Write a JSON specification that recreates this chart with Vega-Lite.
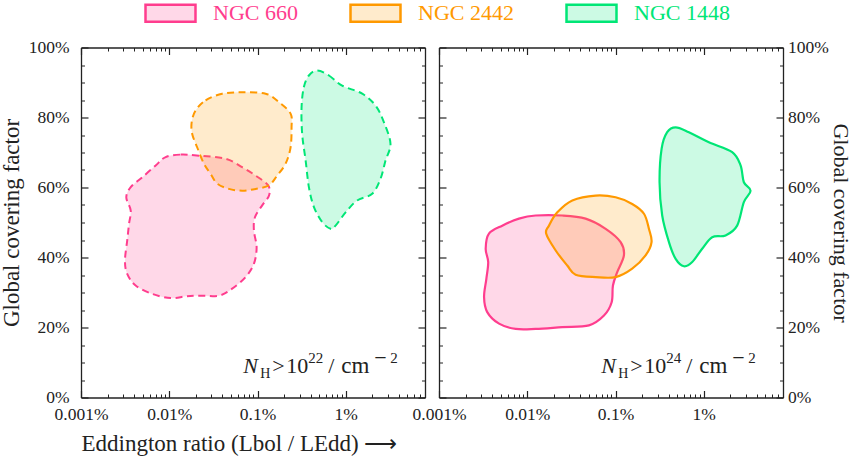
{
  "$schema": "https://vega.github.io/schema/vega-lite/v6.json",
  "background": "white",
  "padding": {"left": 0, "top": 1.5, "right": 0, "bottom": 0},
  "bounds": "flush",
  "spacing": 14,
  "datasets": {
    "blobs": [
      {"panel": "1e22", "galaxy": "NGC 660", "i": 1, "ratio": 0.0091, "cover": 68.7},
      {"panel": "1e22", "galaxy": "NGC 660", "i": 2, "ratio": 0.01346, "cover": 69.4},
      {"panel": "1e22", "galaxy": "NGC 660", "i": 3, "ratio": 0.0217, "cover": 69.1},
      {"panel": "1e22", "galaxy": "NGC 660", "i": 4, "ratio": 0.0436, "cover": 68.2},
      {"panel": "1e22", "galaxy": "NGC 660", "i": 5, "ratio": 0.0671, "cover": 65.8},
      {"panel": "1e22", "galaxy": "NGC 660", "i": 6, "ratio": 0.0951, "cover": 63.4},
      {"panel": "1e22", "galaxy": "NGC 660", "i": 7, "ratio": 0.132, "cover": 60.6},
      {"panel": "1e22", "galaxy": "NGC 660", "i": 8, "ratio": 0.135, "cover": 57.7},
      {"panel": "1e22", "galaxy": "NGC 660", "i": 9, "ratio": 0.113, "cover": 54.9},
      {"panel": "1e22", "galaxy": "NGC 660", "i": 10, "ratio": 0.0935, "cover": 51.5},
      {"panel": "1e22", "galaxy": "NGC 660", "i": 11, "ratio": 0.091, "cover": 47.7},
      {"panel": "1e22", "galaxy": "NGC 660", "i": 12, "ratio": 0.0977, "cover": 42.9},
      {"panel": "1e22", "galaxy": "NGC 660", "i": 13, "ratio": 0.091, "cover": 38.2},
      {"panel": "1e22", "galaxy": "NGC 660", "i": 14, "ratio": 0.0733, "cover": 34.4},
      {"panel": "1e22", "galaxy": "NGC 660", "i": 15, "ratio": 0.0516, "cover": 31.1},
      {"panel": "1e22", "galaxy": "NGC 660", "i": 16, "ratio": 0.0366, "cover": 29.1},
      {"panel": "1e22", "galaxy": "NGC 660", "i": 17, "ratio": 0.0217, "cover": 29.1},
      {"panel": "1e22", "galaxy": "NGC 660", "i": 18, "ratio": 0.01535, "cover": 28.9},
      {"panel": "1e22", "galaxy": "NGC 660", "i": 19, "ratio": 0.01038, "cover": 28.4},
      {"panel": "1e22", "galaxy": "NGC 660", "i": 20, "ratio": 0.00641, "cover": 29.6},
      {"panel": "1e22", "galaxy": "NGC 660", "i": 21, "ratio": 0.00416, "cover": 32.0},
      {"panel": "1e22", "galaxy": "NGC 660", "i": 22, "ratio": 0.00334, "cover": 35.3},
      {"panel": "1e22", "galaxy": "NGC 660", "i": 23, "ratio": 0.00315, "cover": 39.1},
      {"panel": "1e22", "galaxy": "NGC 660", "i": 24, "ratio": 0.00334, "cover": 44.9},
      {"panel": "1e22", "galaxy": "NGC 660", "i": 25, "ratio": 0.0035, "cover": 49.6},
      {"panel": "1e22", "galaxy": "NGC 660", "i": 26, "ratio": 0.00366, "cover": 53.4},
      {"panel": "1e22", "galaxy": "NGC 660", "i": 27, "ratio": 0.00326, "cover": 57.2},
      {"panel": "1e22", "galaxy": "NGC 660", "i": 28, "ratio": 0.00366, "cover": 60.1},
      {"panel": "1e22", "galaxy": "NGC 660", "i": 29, "ratio": 0.00494, "cover": 62.9},
      {"panel": "1e22", "galaxy": "NGC 660", "i": 30, "ratio": 0.00702, "cover": 66.3},
      {"panel": "1e22", "galaxy": "NGC 2442", "i": 1, "ratio": 0.0199, "cover": 82.0},
      {"panel": "1e22", "galaxy": "NGC 2442", "i": 2, "ratio": 0.0258, "cover": 84.9},
      {"panel": "1e22", "galaxy": "NGC 2442", "i": 3, "ratio": 0.0398, "cover": 86.8},
      {"panel": "1e22", "galaxy": "NGC 2442", "i": 4, "ratio": 0.0671, "cover": 87.2},
      {"panel": "1e22", "galaxy": "NGC 2442", "i": 5, "ratio": 0.1236, "cover": 86.8},
      {"panel": "1e22", "galaxy": "NGC 2442", "i": 6, "ratio": 0.175, "cover": 84.4},
      {"panel": "1e22", "galaxy": "NGC 2442", "i": 7, "ratio": 0.237, "cover": 81.1},
      {"panel": "1e22", "galaxy": "NGC 2442", "i": 8, "ratio": 0.243, "cover": 77.2},
      {"panel": "1e22", "galaxy": "NGC 2442", "i": 9, "ratio": 0.237, "cover": 71.5},
      {"panel": "1e22", "galaxy": "NGC 2442", "i": 10, "ratio": 0.208, "cover": 66.8},
      {"panel": "1e22", "galaxy": "NGC 2442", "i": 11, "ratio": 0.167, "cover": 63.4},
      {"panel": "1e22", "galaxy": "NGC 2442", "i": 12, "ratio": 0.1346, "cover": 60.6},
      {"panel": "1e22", "galaxy": "NGC 2442", "i": 13, "ratio": 0.0951, "cover": 59.6},
      {"panel": "1e22", "galaxy": "NGC 2442", "i": 14, "ratio": 0.0671, "cover": 59.1},
      {"panel": "1e22", "galaxy": "NGC 2442", "i": 15, "ratio": 0.0474, "cover": 59.6},
      {"panel": "1e22", "galaxy": "NGC 2442", "i": 16, "ratio": 0.035, "cover": 61.1},
      {"panel": "1e22", "galaxy": "NGC 2442", "i": 17, "ratio": 0.0294, "cover": 63.9},
      {"panel": "1e22", "galaxy": "NGC 2442", "i": 18, "ratio": 0.0247, "cover": 66.8},
      {"panel": "1e22", "galaxy": "NGC 2442", "i": 19, "ratio": 0.0207, "cover": 71.5},
      {"panel": "1e22", "galaxy": "NGC 2442", "i": 20, "ratio": 0.0182, "cover": 75.3},
      {"panel": "1e22", "galaxy": "NGC 2442", "i": 21, "ratio": 0.01795, "cover": 78.7},
      {"panel": "1e22", "galaxy": "NGC 1448", "i": 1, "ratio": 0.474, "cover": 93.4},
      {"panel": "1e22", "galaxy": "NGC 1448", "i": 2, "ratio": 0.644, "cover": 92.0},
      {"panel": "1e22", "galaxy": "NGC 1448", "i": 3, "ratio": 0.91, "cover": 89.1},
      {"panel": "1e22", "galaxy": "NGC 1448", "i": 4, "ratio": 1.535, "cover": 86.8},
      {"panel": "1e22", "galaxy": "NGC 1448", "i": 5, "ratio": 2.177, "cover": 83.4},
      {"panel": "1e22", "galaxy": "NGC 1448", "i": 6, "ratio": 2.7, "cover": 78.7},
      {"panel": "1e22", "galaxy": "NGC 1448", "i": 7, "ratio": 3.21, "cover": 72.5},
      {"panel": "1e22", "galaxy": "NGC 1448", "i": 8, "ratio": 2.82, "cover": 67.7},
      {"panel": "1e22", "galaxy": "NGC 1448", "i": 9, "ratio": 2.477, "cover": 62.5},
      {"panel": "1e22", "galaxy": "NGC 1448", "i": 10, "ratio": 1.991, "cover": 58.2},
      {"panel": "1e22", "galaxy": "NGC 1448", "i": 11, "ratio": 1.346, "cover": 56.3},
      {"panel": "1e22", "galaxy": "NGC 1448", "i": 12, "ratio": 0.995, "cover": 52.9},
      {"panel": "1e22", "galaxy": "NGC 1448", "i": 13, "ratio": 0.766, "cover": 49.1},
      {"panel": "1e22", "galaxy": "NGC 1448", "i": 14, "ratio": 0.673, "cover": 48.2},
      {"panel": "1e22", "galaxy": "NGC 1448", "i": 15, "ratio": 0.541, "cover": 50.1},
      {"panel": "1e22", "galaxy": "NGC 1448", "i": 16, "ratio": 0.436, "cover": 54.4},
      {"panel": "1e22", "galaxy": "NGC 1448", "i": 17, "ratio": 0.382, "cover": 60.1},
      {"panel": "1e22", "galaxy": "NGC 1448", "i": 18, "ratio": 0.351, "cover": 67.7},
      {"panel": "1e22", "galaxy": "NGC 1448", "i": 19, "ratio": 0.3206, "cover": 75.3},
      {"panel": "1e22", "galaxy": "NGC 1448", "i": 20, "ratio": 0.3155, "cover": 82.9},
      {"panel": "1e22", "galaxy": "NGC 1448", "i": 21, "ratio": 0.335, "cover": 88.7},
      {"panel": "1e22", "galaxy": "NGC 1448", "i": 22, "ratio": 0.382, "cover": 92.0},
      {"panel": "1e24", "galaxy": "NGC 660", "i": 1, "ratio": 0.00368, "cover": 46.8},
      {"panel": "1e24", "galaxy": "NGC 660", "i": 2, "ratio": 0.00521, "cover": 49.1},
      {"panel": "1e24", "galaxy": "NGC 660", "i": 3, "ratio": 0.00805, "cover": 51.1},
      {"panel": "1e24", "galaxy": "NGC 660", "i": 4, "ratio": 0.01245, "cover": 52.0},
      {"panel": "1e24", "galaxy": "NGC 660", "i": 5, "ratio": 0.0249, "cover": 52.0},
      {"panel": "1e24", "galaxy": "NGC 660", "i": 6, "ratio": 0.0458, "cover": 51.1},
      {"panel": "1e24", "galaxy": "NGC 660", "i": 7, "ratio": 0.0773, "cover": 48.2},
      {"panel": "1e24", "galaxy": "NGC 660", "i": 8, "ratio": 0.1143, "cover": 44.4},
      {"panel": "1e24", "galaxy": "NGC 660", "i": 9, "ratio": 0.1245, "cover": 40.6},
      {"panel": "1e24", "galaxy": "NGC 660", "i": 10, "ratio": 0.1045, "cover": 35.8},
      {"panel": "1e24", "galaxy": "NGC 660", "i": 11, "ratio": 0.0935, "cover": 32.0},
      {"panel": "1e24", "galaxy": "NGC 660", "i": 12, "ratio": 0.0904, "cover": 27.2},
      {"panel": "1e24", "galaxy": "NGC 660", "i": 13, "ratio": 0.074, "cover": 23.4},
      {"panel": "1e24", "galaxy": "NGC 660", "i": 14, "ratio": 0.05, "cover": 20.6},
      {"panel": "1e24", "galaxy": "NGC 660", "i": 15, "ratio": 0.0249, "cover": 20.1},
      {"panel": "1e24", "galaxy": "NGC 660", "i": 16, "ratio": 0.01245, "cover": 19.6},
      {"panel": "1e24", "galaxy": "NGC 660", "i": 17, "ratio": 0.0074, "cover": 19.6},
      {"panel": "1e24", "galaxy": "NGC 660", "i": 18, "ratio": 0.00479, "cover": 21.1},
      {"panel": "1e24", "galaxy": "NGC 660", "i": 19, "ratio": 0.00352, "cover": 24.4},
      {"panel": "1e24", "galaxy": "NGC 660", "i": 20, "ratio": 0.00324, "cover": 28.7},
      {"panel": "1e24", "galaxy": "NGC 660", "i": 21, "ratio": 0.00344, "cover": 33.9},
      {"panel": "1e24", "galaxy": "NGC 660", "i": 22, "ratio": 0.00361, "cover": 38.7},
      {"panel": "1e24", "galaxy": "NGC 660", "i": 23, "ratio": 0.00338, "cover": 42.5},
      {"panel": "1e24", "galaxy": "NGC 2442", "i": 1, "ratio": 0.0176, "cover": 49.1},
      {"panel": "1e24", "galaxy": "NGC 2442", "i": 2, "ratio": 0.0219, "cover": 52.9},
      {"panel": "1e24", "galaxy": "NGC 2442", "i": 3, "ratio": 0.0324, "cover": 56.3},
      {"panel": "1e24", "galaxy": "NGC 2442", "i": 4, "ratio": 0.0596, "cover": 57.7},
      {"panel": "1e24", "galaxy": "NGC 2442", "i": 5, "ratio": 0.1003, "cover": 57.2},
      {"panel": "1e24", "galaxy": "NGC 2442", "i": 6, "ratio": 0.1545, "cover": 55.3},
      {"panel": "1e24", "galaxy": "NGC 2442", "i": 7, "ratio": 0.21, "cover": 52.5},
      {"panel": "1e24", "galaxy": "NGC 2442", "i": 8, "ratio": 0.239, "cover": 48.2},
      {"panel": "1e24", "galaxy": "NGC 2442", "i": 9, "ratio": 0.256, "cover": 44.4},
      {"panel": "1e24", "galaxy": "NGC 2442", "i": 10, "ratio": 0.219, "cover": 40.6},
      {"panel": "1e24", "galaxy": "NGC 2442", "i": 11, "ratio": 0.1545, "cover": 36.8},
      {"panel": "1e24", "galaxy": "NGC 2442", "i": 12, "ratio": 0.1003, "cover": 34.4},
      {"panel": "1e24", "galaxy": "NGC 2442", "i": 13, "ratio": 0.0596, "cover": 34.4},
      {"panel": "1e24", "galaxy": "NGC 2442", "i": 14, "ratio": 0.0353, "cover": 35.1},
      {"panel": "1e24", "galaxy": "NGC 2442", "i": 15, "ratio": 0.0284, "cover": 37.7},
      {"panel": "1e24", "galaxy": "NGC 2442", "i": 16, "ratio": 0.021, "cover": 42.0},
      {"panel": "1e24", "galaxy": "NGC 2442", "i": 17, "ratio": 0.0164, "cover": 46.8},
      {"panel": "1e24", "galaxy": "NGC 1448", "i": 1, "ratio": 0.48, "cover": 77.2},
      {"panel": "1e24", "galaxy": "NGC 1448", "i": 2, "ratio": 0.678, "cover": 75.8},
      {"panel": "1e24", "galaxy": "NGC 1448", "i": 3, "ratio": 1.143, "cover": 72.9},
      {"panel": "1e24", "galaxy": "NGC 1448", "i": 4, "ratio": 2.099, "cover": 70.1},
      {"panel": "1e24", "galaxy": "NGC 1448", "i": 5, "ratio": 2.612, "cover": 66.3},
      {"panel": "1e24", "galaxy": "NGC 1448", "i": 6, "ratio": 2.845, "cover": 61.5},
      {"panel": "1e24", "galaxy": "NGC 1448", "i": 7, "ratio": 3.388, "cover": 59.1},
      {"panel": "1e24", "galaxy": "NGC 1448", "i": 8, "ratio": 2.845, "cover": 55.8},
      {"panel": "1e24", "galaxy": "NGC 1448", "i": 9, "ratio": 2.388, "cover": 49.1},
      {"panel": "1e24", "galaxy": "NGC 1448", "i": 10, "ratio": 1.766, "cover": 46.3},
      {"panel": "1e24", "galaxy": "NGC 1448", "i": 11, "ratio": 1.245, "cover": 45.8},
      {"panel": "1e24", "galaxy": "NGC 1448", "i": 12, "ratio": 0.959, "cover": 42.5},
      {"panel": "1e24", "galaxy": "NGC 1448", "i": 13, "ratio": 0.74, "cover": 38.7},
      {"panel": "1e24", "galaxy": "NGC 1448", "i": 14, "ratio": 0.596, "cover": 37.5},
      {"panel": "1e24", "galaxy": "NGC 1448", "i": 15, "ratio": 0.48, "cover": 39.6},
      {"panel": "1e24", "galaxy": "NGC 1448", "i": 16, "ratio": 0.403, "cover": 44.4},
      {"panel": "1e24", "galaxy": "NGC 1448", "i": 17, "ratio": 0.338, "cover": 52.0},
      {"panel": "1e24", "galaxy": "NGC 1448", "i": 18, "ratio": 0.3155, "cover": 61.5},
      {"panel": "1e24", "galaxy": "NGC 1448", "i": 19, "ratio": 0.333, "cover": 71.1},
      {"panel": "1e24", "galaxy": "NGC 1448", "i": 20, "ratio": 0.385, "cover": 75.8}
    ]
  },
  "hconcat": [
    {
      "width": 344,
      "height": 350,
      "data": {"name": "blobs"},
      "transform": [{"filter": "datum.panel === '1e22'"}],
      "resolve": {"axis": {"x": "independent", "y": "independent"}},
      "layer": [
        {
          "mark": {"type": "line", "interpolate": "cardinal-closed", "strokeWidth": 2, "strokeDash": [7, 4.5]},
          "encoding": {
            "x": {
              "field": "ratio", "type": "quantitative",
              "scale": {"type": "log", "domain": [0.001, 7.9], "nice": false},
              "axis": {"orient": "bottom", "values": [0.001, 0.01, 0.1, 1], "labelExpr": "datum.value + '%'", "tickSize": -7, "labelPadding": 15, "title": "Eddington ratio (Lbol / LEdd) ⟶", "titleAnchor": "start", "titleAlign": "left", "titlePadding": 9}
            },
            "y": {
              "field": "cover", "type": "quantitative",
              "scale": {"domain": [0, 100], "nice": false},
              "axis": {"orient": "left", "values": [0, 20, 40, 60, 80, 100], "labelExpr": "datum.value + '%'", "tickSize": -7, "labelPadding": 19, "title": "Global covering factor", "titlePadding": 5}
            },
            "order": {"field": "i", "type": "quantitative"},
            "stroke": {
              "field": "galaxy", "type": "nominal",
              "scale": {"domain": ["NGC 660", "NGC 2442", "NGC 1448"], "range": ["#ff3d8e", "#ff9900", "#00e676"]},
              "legend": {
                "title": null, "orient": "none", "legendX": 78.5, "legendY": -45.5, "direction": "horizontal", "columns": 3,
                "columnPadding": 47, "padding": 0,
                "symbolType": "M-2.94,-1L2.94,-1L2.94,1L-2.94,1Z", "symbolSize": 289, "symbolStrokeWidth": 2.5,
                "labelFont": "Liberation Serif", "labelFontSize": 22, "labelOffset": 31.5,
                "encode": {
                  "symbols": {"update": {"strokeDash": {"value": []}, "opacity": {"value": 1}}},
                  "labels": {"update": {"fill": {"signal": "datum.value === 'NGC 660' ? '#ff3d8e' : datum.value === 'NGC 2442' ? '#ff9900' : '#00e676'"}}}
                }
              }
            },
            "fill": {
              "field": "galaxy", "type": "nominal",
              "scale": {"domain": ["NGC 660", "NGC 2442", "NGC 1448"], "range": ["rgba(255,61,142,0.2)", "rgba(255,153,0,0.2)", "rgba(0,230,118,0.2)"]},
              "legend": {
                "title": null, "orient": "none", "legendX": 78.5, "legendY": -45.5, "direction": "horizontal", "columns": 3,
                "columnPadding": 47, "padding": 0,
                "symbolType": "M-2.94,-1L2.94,-1L2.94,1L-2.94,1Z", "symbolSize": 289, "symbolStrokeWidth": 2.5,
                "labelFont": "Liberation Serif", "labelFontSize": 22, "labelOffset": 31.5,
                "encode": {
                  "symbols": {"update": {"strokeDash": {"value": []}, "opacity": {"value": 1}}},
                  "labels": {"update": {"fill": {"signal": "datum.value === 'NGC 660' ? '#ff3d8e' : datum.value === 'NGC 2442' ? '#ff9900' : '#00e676'"}}}
                }
              }
            }
          }
        },
        {
          "mark": {"type": "point", "opacity": 0},
          "encoding": {
            "x": {"field": "ratio", "type": "quantitative", "axis": {"orient": "bottom", "values": [0.002, 0.003, 0.004, 0.005, 0.006, 0.007, 0.008, 0.009, 0.02, 0.03, 0.04, 0.05, 0.06, 0.07, 0.08, 0.09, 0.2, 0.3, 0.4, 0.5, 0.6, 0.7, 0.8, 0.9, 2, 3, 4, 5, 6, 7], "labels": false, "domain": false, "tickSize": -3.5, "tickWidth": 1, "title": null}},
            "y": {"field": "cover", "type": "quantitative", "axis": {"orient": "left", "values": [5, 10, 15, 25, 30, 35, 45, 50, 55, 65, 70, 75, 85, 90, 95], "labels": false, "domain": false, "tickSize": -3.5, "tickWidth": 1, "title": null}}
          }
        },
        {
          "mark": {"type": "point", "opacity": 0},
          "encoding": {
            "x": {"field": "ratio", "type": "quantitative", "axis": {"orient": "top", "values": [0.001, 0.01, 0.1, 1], "labels": false, "tickSize": -7, "title": null}},
            "y": {"field": "cover", "type": "quantitative", "axis": {"orient": "right", "values": [0, 20, 40, 60, 80, 100], "labels": false, "tickSize": -7, "title": null}}
          }
        },
        {
          "mark": {"type": "point", "opacity": 0},
          "encoding": {
            "x": {"field": "ratio", "type": "quantitative", "axis": {"orient": "top", "values": [0.002, 0.003, 0.004, 0.005, 0.006, 0.007, 0.008, 0.009, 0.02, 0.03, 0.04, 0.05, 0.06, 0.07, 0.08, 0.09, 0.2, 0.3, 0.4, 0.5, 0.6, 0.7, 0.8, 0.9, 2, 3, 4, 5, 6, 7], "labels": false, "domain": false, "tickSize": -3.5, "tickWidth": 1, "title": null}},
            "y": {"field": "cover", "type": "quantitative", "axis": {"orient": "right", "values": [5, 10, 15, 25, 30, 35, 45, 50, 55, 65, 70, 75, 85, 90, 95], "labels": false, "domain": false, "tickSize": -3.5, "tickWidth": 1, "title": null}}
          }
        },
        {
          "data": {"values": [{"t": "N"}]},
          "mark": {"type": "text", "align": "left", "baseline": "alphabetic", "fontSize": 22, "fontStyle": "italic", "color": "#222"},
          "encoding": {"x": {"datum": 0.069, "type": "quantitative", "axis": null}, "y": {"datum": 7.1, "type": "quantitative", "axis": null}, "text": {"field": "t"}}
        },
        {
          "data": {"values": [{"t": "H"}]},
          "mark": {"type": "text", "align": "left", "baseline": "alphabetic", "fontSize": 14, "dx": 17, "dy": 5, "color": "#222"},
          "encoding": {"x": {"datum": 0.069, "type": "quantitative", "axis": null}, "y": {"datum": 7.1, "type": "quantitative", "axis": null}, "text": {"field": "t"}}
        },
        {
          "data": {"values": [{"t": ">"}]},
          "mark": {"type": "text", "align": "left", "baseline": "alphabetic", "fontSize": 22, "dx": 29, "color": "#222"},
          "encoding": {"x": {"datum": 0.069, "type": "quantitative", "axis": null}, "y": {"datum": 7.1, "type": "quantitative", "axis": null}, "text": {"field": "t"}}
        },
        {
          "data": {"values": [{"t": "10"}]},
          "mark": {"type": "text", "align": "left", "baseline": "alphabetic", "fontSize": 22, "dx": 43, "color": "#222"},
          "encoding": {"x": {"datum": 0.069, "type": "quantitative", "axis": null}, "y": {"datum": 7.1, "type": "quantitative", "axis": null}, "text": {"field": "t"}}
        },
        {
          "data": {"values": [{"t": "22"}]},
          "mark": {"type": "text", "align": "left", "baseline": "alphabetic", "fontSize": 15, "dx": 65, "dy": -10, "color": "#222"},
          "encoding": {"x": {"datum": 0.069, "type": "quantitative", "axis": null}, "y": {"datum": 7.1, "type": "quantitative", "axis": null}, "text": {"field": "t"}}
        },
        {
          "data": {"values": [{"t": "/"}]},
          "mark": {"type": "text", "align": "left", "baseline": "alphabetic", "fontSize": 22, "dx": 85, "color": "#222"},
          "encoding": {"x": {"datum": 0.069, "type": "quantitative", "axis": null}, "y": {"datum": 7.1, "type": "quantitative", "axis": null}, "text": {"field": "t"}}
        },
        {
          "data": {"values": [{"t": "cm"}]},
          "mark": {"type": "text", "align": "left", "baseline": "alphabetic", "fontSize": 23, "dx": 98, "color": "#222"},
          "encoding": {"x": {"datum": 0.069, "type": "quantitative", "axis": null}, "y": {"datum": 7.1, "type": "quantitative", "axis": null}, "text": {"field": "t"}}
        },
        {
          "data": {"values": [{"t": "−"}]},
          "mark": {"type": "text", "align": "left", "baseline": "alphabetic", "fontSize": 22, "dx": 131, "dy": -8, "color": "#222"},
          "encoding": {"x": {"datum": 0.069, "type": "quantitative", "axis": null}, "y": {"datum": 7.1, "type": "quantitative", "axis": null}, "text": {"field": "t"}}
        },
        {
          "data": {"values": [{"t": "2"}]},
          "mark": {"type": "text", "align": "left", "baseline": "alphabetic", "fontSize": 15, "dx": 147, "dy": -10, "color": "#222"},
          "encoding": {"x": {"datum": 0.069, "type": "quantitative", "axis": null}, "y": {"datum": 7.1, "type": "quantitative", "axis": null}, "text": {"field": "t"}}
        }
      ]
    },
    {
      "width": 344,
      "height": 350,
      "data": {"name": "blobs"},
      "transform": [{"filter": "datum.panel === '1e24'"}],
      "resolve": {"axis": {"x": "independent", "y": "independent"}},
      "layer": [
        {
          "mark": {"type": "line", "interpolate": "cardinal-closed", "strokeWidth": 2.2},
          "encoding": {
            "x": {
              "field": "ratio", "type": "quantitative",
              "scale": {"type": "log", "domain": [0.001, 7.9], "nice": false},
              "axis": {"orient": "bottom", "values": [0.001, 0.01, 0.1, 1], "labelExpr": "datum.value + '%'", "tickSize": -7, "labelPadding": 15, "title": null}
            },
            "y": {
              "field": "cover", "type": "quantitative",
              "scale": {"domain": [0, 100], "nice": false},
              "axis": {"orient": "left", "values": [0, 20, 40, 60, 80, 100], "labels": false, "tickSize": -7, "title": null}
            },
            "order": {"field": "i", "type": "quantitative"},
            "stroke": {
              "field": "galaxy", "type": "nominal",
              "scale": {"domain": ["NGC 660", "NGC 2442", "NGC 1448"], "range": ["#ff3d8e", "#ff9900", "#00e676"]},
              "legend": {
                "title": null, "orient": "none", "legendX": 78.5, "legendY": -45.5, "direction": "horizontal", "columns": 3,
                "columnPadding": 47, "padding": 0,
                "symbolType": "M-2.94,-1L2.94,-1L2.94,1L-2.94,1Z", "symbolSize": 289, "symbolStrokeWidth": 2.5,
                "labelFont": "Liberation Serif", "labelFontSize": 22, "labelOffset": 31.5,
                "encode": {
                  "symbols": {"update": {"strokeDash": {"value": []}, "opacity": {"value": 1}}},
                  "labels": {"update": {"fill": {"signal": "datum.value === 'NGC 660' ? '#ff3d8e' : datum.value === 'NGC 2442' ? '#ff9900' : '#00e676'"}}}
                }
              }
            },
            "fill": {
              "field": "galaxy", "type": "nominal",
              "scale": {"domain": ["NGC 660", "NGC 2442", "NGC 1448"], "range": ["rgba(255,61,142,0.2)", "rgba(255,153,0,0.2)", "rgba(0,230,118,0.2)"]},
              "legend": {
                "title": null, "orient": "none", "legendX": 78.5, "legendY": -45.5, "direction": "horizontal", "columns": 3,
                "columnPadding": 47, "padding": 0,
                "symbolType": "M-2.94,-1L2.94,-1L2.94,1L-2.94,1Z", "symbolSize": 289, "symbolStrokeWidth": 2.5,
                "labelFont": "Liberation Serif", "labelFontSize": 22, "labelOffset": 31.5,
                "encode": {
                  "symbols": {"update": {"strokeDash": {"value": []}, "opacity": {"value": 1}}},
                  "labels": {"update": {"fill": {"signal": "datum.value === 'NGC 660' ? '#ff3d8e' : datum.value === 'NGC 2442' ? '#ff9900' : '#00e676'"}}}
                }
              }
            }
          }
        },
        {
          "mark": {"type": "point", "opacity": 0},
          "encoding": {
            "x": {"field": "ratio", "type": "quantitative", "axis": {"orient": "bottom", "values": [0.002, 0.003, 0.004, 0.005, 0.006, 0.007, 0.008, 0.009, 0.02, 0.03, 0.04, 0.05, 0.06, 0.07, 0.08, 0.09, 0.2, 0.3, 0.4, 0.5, 0.6, 0.7, 0.8, 0.9, 2, 3, 4, 5, 6, 7], "labels": false, "domain": false, "tickSize": -3.5, "tickWidth": 1, "title": null}},
            "y": {"field": "cover", "type": "quantitative", "axis": {"orient": "left", "values": [5, 10, 15, 25, 30, 35, 45, 50, 55, 65, 70, 75, 85, 90, 95], "labels": false, "domain": false, "tickSize": -3.5, "tickWidth": 1, "title": null}}
          }
        },
        {
          "mark": {"type": "point", "opacity": 0},
          "encoding": {
            "x": {"field": "ratio", "type": "quantitative", "axis": {"orient": "top", "values": [0.001, 0.01, 0.1, 1], "labels": false, "tickSize": -7, "title": null}},
            "y": {"field": "cover", "type": "quantitative", "axis": {"orient": "right", "values": [0, 20, 40, 60, 80, 100], "labelExpr": "datum.value + '%'", "tickSize": -7, "labelPadding": 11.5, "title": "Global covering factor", "titleFontSize": 22, "titlePadding": 0}}
          }
        },
        {
          "mark": {"type": "point", "opacity": 0},
          "encoding": {
            "x": {"field": "ratio", "type": "quantitative", "axis": {"orient": "top", "values": [0.002, 0.003, 0.004, 0.005, 0.006, 0.007, 0.008, 0.009, 0.02, 0.03, 0.04, 0.05, 0.06, 0.07, 0.08, 0.09, 0.2, 0.3, 0.4, 0.5, 0.6, 0.7, 0.8, 0.9, 2, 3, 4, 5, 6, 7], "labels": false, "domain": false, "tickSize": -3.5, "tickWidth": 1, "title": null}},
            "y": {"field": "cover", "type": "quantitative", "axis": {"orient": "right", "values": [5, 10, 15, 25, 30, 35, 45, 50, 55, 65, 70, 75, 85, 90, 95], "labels": false, "domain": false, "tickSize": -3.5, "tickWidth": 1, "title": null}}
          }
        },
        {
          "data": {"values": [{"t": "N"}]},
          "mark": {"type": "text", "align": "left", "baseline": "alphabetic", "fontSize": 22, "fontStyle": "italic", "color": "#222"},
          "encoding": {"x": {"datum": 0.069, "type": "quantitative", "axis": null}, "y": {"datum": 7.1, "type": "quantitative", "axis": null}, "text": {"field": "t"}}
        },
        {
          "data": {"values": [{"t": "H"}]},
          "mark": {"type": "text", "align": "left", "baseline": "alphabetic", "fontSize": 14, "dx": 17, "dy": 5, "color": "#222"},
          "encoding": {"x": {"datum": 0.069, "type": "quantitative", "axis": null}, "y": {"datum": 7.1, "type": "quantitative", "axis": null}, "text": {"field": "t"}}
        },
        {
          "data": {"values": [{"t": ">"}]},
          "mark": {"type": "text", "align": "left", "baseline": "alphabetic", "fontSize": 22, "dx": 29, "color": "#222"},
          "encoding": {"x": {"datum": 0.069, "type": "quantitative", "axis": null}, "y": {"datum": 7.1, "type": "quantitative", "axis": null}, "text": {"field": "t"}}
        },
        {
          "data": {"values": [{"t": "10"}]},
          "mark": {"type": "text", "align": "left", "baseline": "alphabetic", "fontSize": 22, "dx": 43, "color": "#222"},
          "encoding": {"x": {"datum": 0.069, "type": "quantitative", "axis": null}, "y": {"datum": 7.1, "type": "quantitative", "axis": null}, "text": {"field": "t"}}
        },
        {
          "data": {"values": [{"t": "24"}]},
          "mark": {"type": "text", "align": "left", "baseline": "alphabetic", "fontSize": 15, "dx": 65, "dy": -10, "color": "#222"},
          "encoding": {"x": {"datum": 0.069, "type": "quantitative", "axis": null}, "y": {"datum": 7.1, "type": "quantitative", "axis": null}, "text": {"field": "t"}}
        },
        {
          "data": {"values": [{"t": "/"}]},
          "mark": {"type": "text", "align": "left", "baseline": "alphabetic", "fontSize": 22, "dx": 85, "color": "#222"},
          "encoding": {"x": {"datum": 0.069, "type": "quantitative", "axis": null}, "y": {"datum": 7.1, "type": "quantitative", "axis": null}, "text": {"field": "t"}}
        },
        {
          "data": {"values": [{"t": "cm"}]},
          "mark": {"type": "text", "align": "left", "baseline": "alphabetic", "fontSize": 23, "dx": 98, "color": "#222"},
          "encoding": {"x": {"datum": 0.069, "type": "quantitative", "axis": null}, "y": {"datum": 7.1, "type": "quantitative", "axis": null}, "text": {"field": "t"}}
        },
        {
          "data": {"values": [{"t": "−"}]},
          "mark": {"type": "text", "align": "left", "baseline": "alphabetic", "fontSize": 22, "dx": 131, "dy": -8, "color": "#222"},
          "encoding": {"x": {"datum": 0.069, "type": "quantitative", "axis": null}, "y": {"datum": 7.1, "type": "quantitative", "axis": null}, "text": {"field": "t"}}
        },
        {
          "data": {"values": [{"t": "2"}]},
          "mark": {"type": "text", "align": "left", "baseline": "alphabetic", "fontSize": 15, "dx": 147, "dy": -10, "color": "#222"},
          "encoding": {"x": {"datum": 0.069, "type": "quantitative", "axis": null}, "y": {"datum": 7.1, "type": "quantitative", "axis": null}, "text": {"field": "t"}}
        }
      ]
    }
  ],
  "config": {
    "view": {"stroke": null},
    "font": "Liberation Serif",
    "text": {"font": "Liberation Serif"},
    "axis": {
      "labelFont": "Liberation Serif", "labelFontSize": 17.5, "labelColor": "#222",
      "titleFont": "Liberation Serif", "titleFontSize": 23, "titleFontWeight": "normal", "titleColor": "#222",
      "domainColor": "#222", "domainWidth": 1.3, "tickColor": "#222", "tickWidth": 1.2,
      "grid": false, "labelFlush": false, "labelOverlap": false
    }
  }
}
